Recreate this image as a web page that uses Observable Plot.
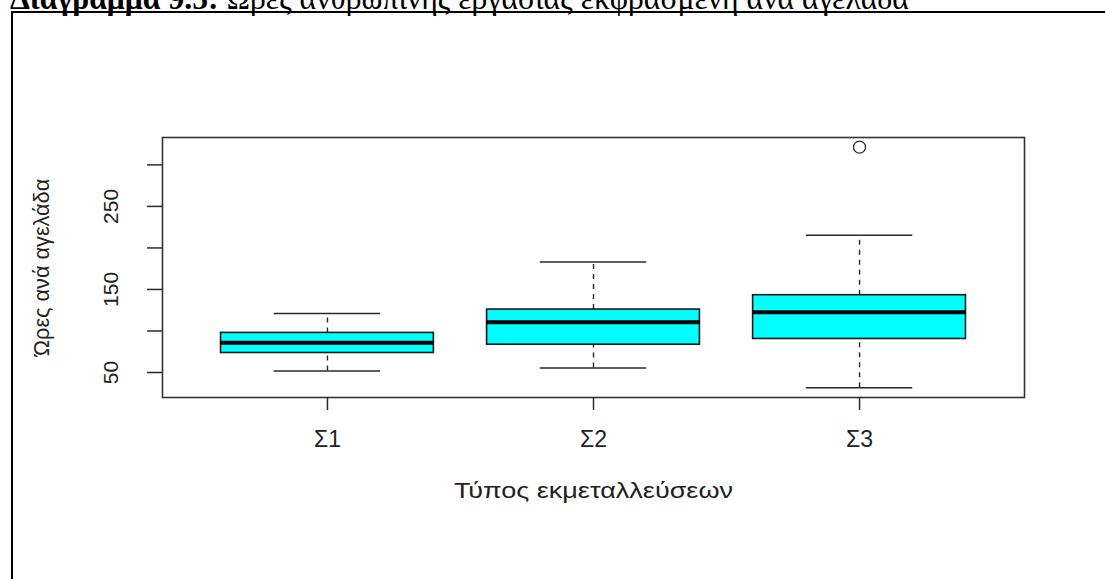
<!DOCTYPE html>
<html>
<head>
<meta charset="utf-8">
<script src="https://cdn.jsdelivr.net/npm/d3@7"></script>
<script src="https://cdn.jsdelivr.net/npm/@observablehq/plot@0.6"></script>
<style>
  html, body { margin: 0; padding: 0; background: #fff; }
  #wrap { position: relative; width: 1105px; height: 579px; overflow: hidden; background: #fff; }
  #title { position: absolute; left: 10px; white-space: nowrap; font-family: "Liberation Serif", "Times New Roman", serif; line-height: 1; color: #000; }
  #title b { font-weight: bold; }
  #border { position: absolute; left: 11px; top: 11px; width: 1200px; height: 700px; border-top: 2px solid #000; border-left: 2px solid #000; }
  #chart { position: absolute; left: 0; top: 0; }
</style>
</head>
<body>
<div id="wrap">
  <div id="title"><b>Διάγραμμα 9.5:</b> Ώρες ανθρώπινης εργασίας εκφρασμένη ανά αγελάδα</div>
  <div id="border"></div>
  <div id="chart"></div>
</div>
<script>
// ---- data ----
const categories   = ["Σ1", "Σ2", "Σ3"];
const whiskerLow   = [51.7, 55.3, 31.5];
const quartile1    = [73.5, 83.5, 90.4];
const medians      = [85.9, 110.5, 122.6];
const quartile3    = [97.7, 125.8, 143.1];
const whiskerHigh  = [121.0, 183.0, 215.3];
const outlierCats  = ["Σ3"];
const outlierVals  = [321.4];
const yTicks       = [50, 100, 150, 200, 250, 300];
const yTickLabels  = [50, 150, 250];
const xTitle = "Τύπος εκμεταλλεύσεων";
const yTitle = "Ώρες ανά αγελάδα";

// ---- tables ----
const boxes = categories.map((c, i) => ({
  cat: c, pos: i + 1,
  lo: whiskerLow[i], q1: quartile1[i], med: medians[i], q3: quartile3[i], hi: whiskerHigh[i]
}));
const outliers = outlierCats.map((c, i) => ({ pos: categories.indexOf(c) + 1, v: outlierVals[i] }));

// R-style axis extension (4%)
const n = categories.length;
const xDom = [0.5 - 0.04 * n, n + 0.5 + 0.04 * n];
const allVals = [...whiskerLow, ...whiskerHigh, ...outlierVals];
const vmin = d3.min(allVals), vmax = d3.max(allVals), vr = vmax - vmin;
const yDom = [vmin - 0.04 * vr, vmax + 0.04 * vr];

const ink = "#2a2a2a";

const chart = Plot.plot({
  width: 1105,
  height: 579,
  marginLeft: 162,
  marginRight: 81,
  marginTop: 137,
  marginBottom: 182,
  style: { fontFamily: "'Liberation Sans', Arial, sans-serif", fontSize: "21px", color: "#222", background: "transparent" },
  x: { type: "linear", domain: xDom, axis: null },
  y: { type: "linear", domain: yDom, axis: null },
  marks: [
    // whiskers (dashed)
    Plot.ruleX(boxes, { x: "pos", y1: "q3", y2: "hi", stroke: ink, strokeWidth: 1.4, strokeDasharray: "5,5" }),
    Plot.ruleX(boxes, { x: "pos", y1: "lo", y2: "q1", stroke: ink, strokeWidth: 1.4, strokeDasharray: "5,5" }),
    // whisker caps
    Plot.ruleY(boxes, { y: "hi", x1: d => d.pos - 0.2, x2: d => d.pos + 0.2, stroke: ink, strokeWidth: 1.5 }),
    Plot.ruleY(boxes, { y: "lo", x1: d => d.pos - 0.2, x2: d => d.pos + 0.2, stroke: ink, strokeWidth: 1.5 }),
    // boxes
    Plot.rect(boxes, { x1: d => d.pos - 0.4, x2: d => d.pos + 0.4, y1: "q1", y2: "q3", fill: "#00ffff", stroke: "#1a1a1a", strokeWidth: 1.6 }),
    // medians
    Plot.ruleY(boxes, { y: "med", x1: d => d.pos - 0.4, x2: d => d.pos + 0.4, stroke: "#000", strokeWidth: 4 }),
    // outliers
    Plot.dot(outliers, { x: "pos", y: "v", r: 6, stroke: ink, strokeWidth: 1.3, fill: "none" }),
    // frame
    Plot.frame({ stroke: "#333", strokeWidth: 1.6 }),
    // y axis ticks
    Plot.axisY({ ticks: yTicks, tickSize: 15, tickFormat: () => "", label: null, stroke: ink, strokeWidth: 1.5 }),
    // y tick labels (rotated, as in R)
    Plot.text(yTickLabels, { y: d => d, text: d => String(d), frameAnchor: "left", dx: -51, rotate: -90, textAnchor: "middle", lineAnchor: "middle", fontSize: 21, fill: "#222" }),
    // x axis
    Plot.axisX({ ticks: boxes.map(d => d.pos), tickFormat: d => categories[d - 1], tickSize: 13, tickPadding: 20, fontSize: 23, label: null, stroke: ink, strokeWidth: 1.5, fill: "#222" }),
    // axis titles
    Plot.text([xTitle], { text: d => d, frameAnchor: "bottom", dy: 100, lineAnchor: "bottom", fontSize: 22, fill: "#222", className: "xtitle" }),
    Plot.text([yTitle], { text: d => d, frameAnchor: "left", dx: -120, rotate: -90, textAnchor: "middle", lineAnchor: "middle", fontSize: 21.7, fill: "#222" })
  ]
});
// the reference's x-axis title is drawn horizontally wider than its height suggests
d3.select(chart).selectAll(".xtitle text").attr("textLength", 279).attr("lengthAdjust", "spacingAndGlyphs");
document.getElementById("chart").appendChild(chart);

// size the (cropped) document title so it spans the same width as in the picture
(function () {
  const t = document.getElementById("title");
  const c = document.createElement("canvas").getContext("2d");
  c.font = 'bold 100px "Liberation Serif"';
  const w1 = c.measureText("Διάγραμμα 9.5:").width;
  c.font = '100px "Liberation Serif"';
  const w2 = c.measureText(" Ώρες ανθρώπινης εργασίας εκφρασμένη ανά αγελάδα").width;
  const F = 100 * 899 / (w1 + w2);
  t.style.fontSize = F + "px";
  t.style.top = (9.5 - 0.8375 * F) + "px";
})();
</script>
</body>
</html>
